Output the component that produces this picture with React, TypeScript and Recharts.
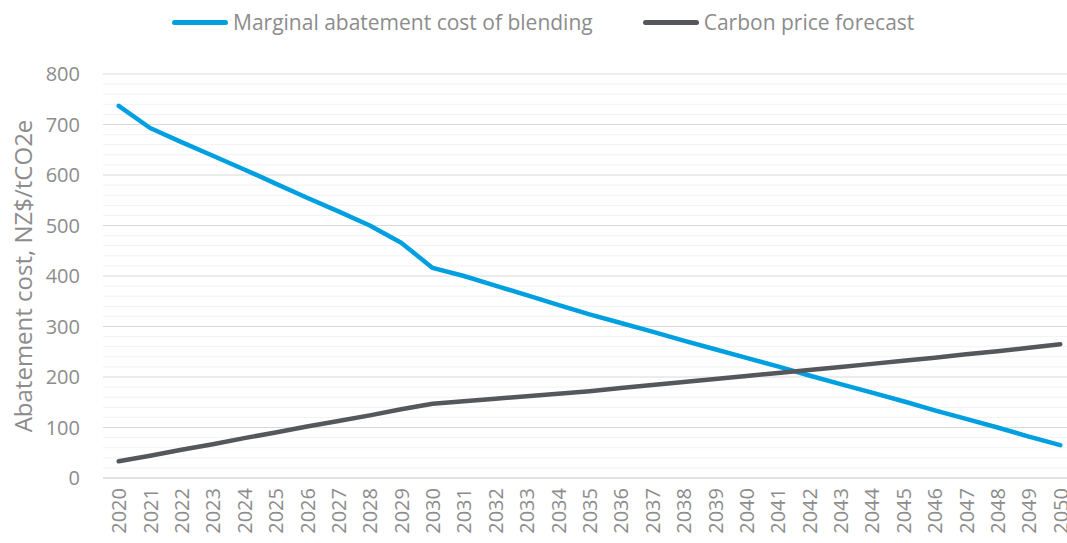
import React from "react";
import {
  LineChart,
  Line,
  XAxis,
  YAxis,
  CartesianGrid,
  Legend,
  ReferenceLine,
} from "recharts";

const years = [
  "2020", "2021", "2022", "2023", "2024", "2025", "2026", "2027", "2028", "2029",
  "2030", "2031", "2032", "2033", "2034", "2035", "2036", "2037", "2038", "2039",
  "2040", "2041", "2042", "2043", "2044", "2045", "2046", "2047", "2048", "2049",
  "2050",
];

const blendingCost = [
  737, 693, 665, 638, 611, 583, 555, 528, 500, 466,
  416, 400, 381, 362, 343, 324, 307, 290, 272, 255,
  238, 221, 203, 186, 169, 152, 134, 117, 100, 82,
  65,
];

const carbonPrice = [
  33, 44, 56, 67, 79, 90, 102, 113, 124, 136,
  147, 152, 157, 162, 167, 172, 178, 184, 190, 196,
  202, 208, 214, 220, 226, 232, 238, 245, 251, 258,
  265,
];

const yTicks = [0, 100, 200, 300, 400, 500, 600, 700, 800];
const minorTicks = [
  20, 40, 60, 80, 120, 140, 160, 180, 220, 240, 260, 280, 320, 340, 360, 380,
  420, 440, 460, 480, 520, 540, 560, 580, 620, 640, 660, 680, 720, 740, 760, 780,
];

const seriesNames = ["Marginal abatement cost of blending", "Carbon price forecast"];
const seriesColors = ["#00A0E0", "#54575B"];

const data = years.map((year, i) => ({
  year,
  blending: blendingCost[i],
  carbon: carbonPrice[i],
}));

const FONT = "'Open Sans', sans-serif";
const TEXT = "#8C8C8C";

const LegendRow = () => (
  <div
    style={{
      display: "flex",
      alignItems: "center",
      paddingLeft: 172,
      height: 44,
      fontFamily: FONT,
      fontSize: 21,
      color: TEXT,
    }}
  >
    {seriesNames.map((name, i) => (
      <div key={name} style={{ display: "flex", alignItems: "center", marginRight: 50 }}>
        <span
          style={{
            display: "inline-block",
            width: 56,
            height: 5,
            borderRadius: 3,
            background: seriesColors[i],
            marginRight: 5,
          }}
        />
        <span>{name}</span>
      </div>
    ))}
  </div>
);

// vertical year labels, centred on the tick and reading bottom-to-top
const YearTick = ({ x, y, payload }: any) => {
  const ty = y + 8;
  return (
    <text
      x={x}
      y={ty}
      transform={`rotate(-90, ${x}, ${ty})`}
      textAnchor="end"
      dominantBaseline="central"
      fill={TEXT}
      fontFamily={FONT}
      fontSize={20}
    >
      {payload.value}
    </text>
  );
};

const YLabel = ({ viewBox }: any) => {
  const cy = viewBox.y + viewBox.height / 2;
  return (
    <text
      x={22}
      y={cy}
      transform={`rotate(-90, 22, ${cy})`}
      textAnchor="middle"
      dominantBaseline="central"
      fill={TEXT}
      fontFamily={FONT}
      fontSize={24}
    >
      Abatement cost, NZ$/tCO2e
    </text>
  );
};

export default function App() {
  return (
    <div
      style={{
        position: "absolute",
        left: 0,
        top: 0,
        width: 1067,
        height: 543,
        overflow: "hidden",
        background: "#fff",
      }}
    >
      <LineChart
        width={1076}
        height={543}
        data={data}
        margin={{ top: 30, right: 0, left: 0, bottom: 5 }}
      >
        {minorTicks.map((v) => (
          <ReferenceLine key={v} y={v} stroke="#F2F2F2" strokeWidth={1} />
        ))}
        <CartesianGrid vertical={false} stroke="#D9D9D9" strokeWidth={1} />
        <XAxis
          dataKey="year"
          interval={0}
          padding={{ left: 15.7, right: 15.7 }}
          height={60}
          tickLine={false}
          tickSize={0}
          axisLine={{ stroke: "#D9D9D9" }}
          tick={<YearTick />}
        />
        <YAxis
          domain={[0, 800]}
          ticks={yTicks}
          width={103}
          axisLine={false}
          tickLine={false}
          tickSize={0}
          tickMargin={23}
          tick={{ fill: TEXT, fontFamily: FONT, fontSize: 20 }}
          label={<YLabel />}
        />
        <Legend verticalAlign="top" wrapperStyle={{ top: 0 }} content={<LegendRow />} />
        <Line
          dataKey="blending"
          name={seriesNames[0]}
          stroke={seriesColors[0]}
          strokeWidth={4.5}
          strokeLinecap="round"
          strokeLinejoin="round"
          dot={false}
          isAnimationActive={false}
        />
        <Line
          dataKey="carbon"
          name={seriesNames[1]}
          stroke={seriesColors[1]}
          strokeWidth={4.5}
          strokeLinecap="round"
          strokeLinejoin="round"
          dot={false}
          isAnimationActive={false}
        />
      </LineChart>
    </div>
  );
}
